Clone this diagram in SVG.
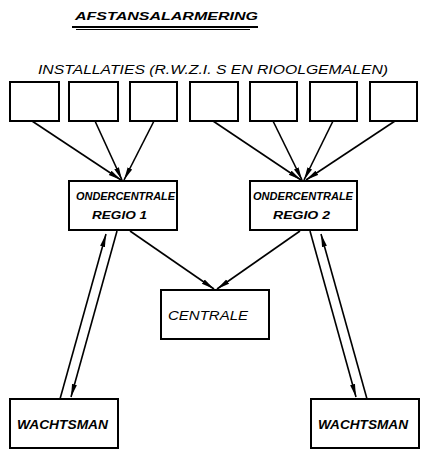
<svg xmlns="http://www.w3.org/2000/svg" width="441" height="471" viewBox="0 0 441 471">
<defs>
<marker id="ah" markerUnits="userSpaceOnUse" markerWidth="14" markerHeight="8" refX="13" refY="3" orient="auto">
<path d="M0,0.5 L13,3 L0,5.5 z" fill="#000"/>
</marker>
<style>
.box{fill:#fff;stroke:#000;stroke-width:2}
.ln{stroke:#000;stroke-width:1.6;fill:none}
.t{font-family:"Liberation Sans",Arial,sans-serif;font-style:italic;font-weight:bold;fill:#000}
.n{font-weight:normal}
</style>
</defs>
<rect width="441" height="471" fill="#fff"/>
<g id="title">
<text class="t" x="75" y="20" font-size="11" textLength="183" lengthAdjust="spacingAndGlyphs">AFSTANSALARMERING</text>
<line x1="72" y1="27" x2="258" y2="27" stroke="#000" stroke-width="2"/>
<line x1="76" y1="29.5" x2="250" y2="29.5" stroke="#000" stroke-width="1"/>
</g>
<g id="subtitle">
<text class="t n" x="38" y="74" font-size="13" textLength="350" lengthAdjust="spacingAndGlyphs">INSTALLATIES (R.W.Z.I. S EN RIOOLGEMALEN)</text>
</g>
<g id="inst1"><rect class="box" x="10" y="82" width="49" height="39"/></g>
<g id="inst2"><rect class="box" x="69" y="82" width="49" height="39"/></g>
<g id="inst3"><rect class="box" x="130" y="82" width="47" height="39"/></g>
<g id="inst4"><rect class="box" x="190" y="82" width="48" height="39"/></g>
<g id="inst5"><rect class="box" x="250" y="82" width="47" height="39"/></g>
<g id="inst6"><rect class="box" x="310" y="82" width="47" height="39"/></g>
<g id="inst7"><rect class="box" x="370" y="82" width="47" height="39"/></g>
<g id="regio1">
<rect class="box" x="69" y="181" width="108" height="49"/>
<text class="t" x="76" y="200" font-size="11" textLength="99" lengthAdjust="spacingAndGlyphs">ONDERCENTRALE</text>
<text class="t" x="92" y="219" font-size="11" textLength="55" lengthAdjust="spacingAndGlyphs">REGIO 1</text>
</g>
<g id="regio2">
<rect class="box" x="250" y="181" width="107" height="49"/>
<text class="t" x="253" y="200" font-size="11" textLength="100" lengthAdjust="spacingAndGlyphs">ONDERCENTRALE</text>
<text class="t" x="273" y="219" font-size="11" textLength="57" lengthAdjust="spacingAndGlyphs">REGIO 2</text>
</g>
<g id="centrale">
<rect class="box" x="161" y="290" width="108" height="49"/>
<text class="t n" x="168" y="320" font-size="12" textLength="80" lengthAdjust="spacingAndGlyphs">CENTRALE</text>
</g>
<g id="wachtsman1">
<rect class="box" x="10" y="399" width="108" height="49"/>
<text class="t" x="17" y="429" font-size="12" textLength="91" lengthAdjust="spacingAndGlyphs">WACHTSMAN</text>
</g>
<g id="wachtsman2">
<rect class="box" x="311" y="399" width="108" height="49"/>
<text class="t" x="318" y="429" font-size="12" textLength="90" lengthAdjust="spacingAndGlyphs">WACHTSMAN</text>
</g>
<g id="connectors">
<line class="ln" x1="32" y1="121" x2="121" y2="180" marker-end="url(#ah)"/>
<line class="ln" x1="95" y1="121" x2="122" y2="180" marker-end="url(#ah)"/>
<line class="ln" x1="154" y1="121" x2="124" y2="180" marker-end="url(#ah)"/>
<line class="ln" x1="213" y1="121" x2="301" y2="180" marker-end="url(#ah)"/>
<line class="ln" x1="273" y1="121" x2="302" y2="180" marker-end="url(#ah)"/>
<line class="ln" x1="333" y1="121" x2="304" y2="180" marker-end="url(#ah)"/>
<line class="ln" x1="395" y1="121" x2="306" y2="180" marker-end="url(#ah)"/>
<line class="ln" x1="130" y1="231" x2="214" y2="289" marker-end="url(#ah)"/>
<line class="ln" x1="300" y1="231" x2="217" y2="289" marker-end="url(#ah)"/>
<line class="ln" x1="60" y1="399" x2="106" y2="234" marker-end="url(#ah)"/>
<line class="ln" x1="117" y1="231" x2="71" y2="397" marker-end="url(#ah)"/>
<line class="ln" x1="367" y1="399" x2="321" y2="234" marker-end="url(#ah)"/>
<line class="ln" x1="310" y1="231" x2="356" y2="397" marker-end="url(#ah)"/>
</g>
</svg>
